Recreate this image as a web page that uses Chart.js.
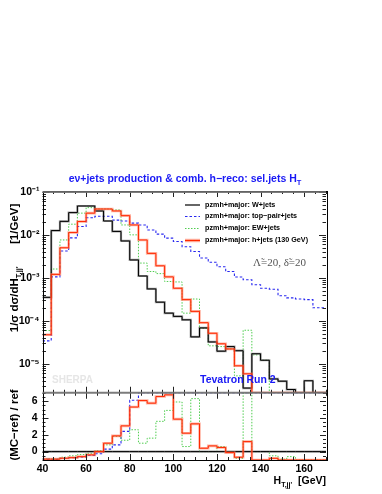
<!DOCTYPE html>
<html>
<head>
<meta charset="utf-8">
<script src="https://cdn.jsdelivr.net/npm/chart.js@4.4.1/dist/chart.umd.min.js"></script>
<style>
html, body { margin: 0; padding: 0; background: #fff; }
canvas { display: block; }
</style>
</head>
<body>
<canvas id="plot" width="382" height="494"></canvas>
<script>
// lower bin edges (GeV), 4 GeV wide
const binLow = [40, 44, 48, 52, 56, 60, 64, 68, 72, 76, 80, 84, 88, 92, 96, 100, 104,
    108, 112, 116, 120, 124, 128, 132, 136, 140, 144, 148, 152, 156, 160, 164, 168]
const binWidth = 4

// 1/sigma dsigma/dHT  [1/GeV]
const wJets = [3.5e-4, 0.0126, 0.0206, 0.033, 0.047, 0.047, 0.036, 0.021, 0.012, 0.0072, 0.0026,
    1.1e-3, 5.5e-4, 2.7e-4, 1.5e-4, 1.26e-4, 1.05e-4, 4.2e-5, 6.8e-5, 3.2e-5, 1.95e-5, 2.5e-5,
    2.0e-5, 2.7e-6, 1.7e-5, 1.2e-5, 4.4e-6, 3.9e-6, 2.5e-6, 0, 4e-6, 0, 0]
const topPair = [3.4e-5, 1.05e-3, 4.2e-3, 8.5e-3, 0.0156, 0.025, 0.027, 0.027, 0.022, 0.021, 0.0187,
    0.017, 0.013, 0.0104, 8.4e-3, 7.0e-3, 5.3e-3, 4.1e-3, 2.9e-3, 2.3e-3, 1.8e-3, 1.4e-3,
    1.04e-3, 9e-4, 6.9e-4, 5.7e-4, 5.4e-4, 3.8e-4, 3.4e-4, 3.2e-4, 3.1e-4, 2.0e-4, 2.0e-4]
const ewJets = [5.9e-5, 1.6e-3, 7.6e-3, 0.0177, 0.032, 0.043, 0.040, 0.040, 0.038, 0.017, 0.010,
    2.2e-3, 1.4e-3, 1.25e-3, 8.2e-4, 8.0e-4, 1.5e-4, 3.2e-4, 6.6e-5, 2.6e-5, 2.5e-5, 2.2e-5,
    5.2e-6, 6.0e-5, 1.6e-5, 1.2e-5, 0, 0, 0, 0, 0, 0, 0]
const hJets = [4.7e-5, 1.2e-3, 5.0e-3, 0.0113, 0.0204, 0.032, 0.040, 0.040, 0.036, 0.028, 0.017,
    7.6e-3, 3.7e-3, 1.9e-3, 1.05e-3, 5.7e-4, 3.1e-4, 1.65e-4, 9e-5, 5.1e-5, 2.9e-5, 2.2e-5,
    8.9e-6, 5.8e-6, 0, 0, 0, 0, 0, 0, 0, 0, 0]

// (MC-ref)/ref
const wJetsRatio = [0, 0, 0, 0, 0, 0, 0, 0, 0, 0, 0, 0, 0, 0, 0, 0, 0,
    0, 0, 0, 0, 0, 0, 0, 0, 0, 0, 0, 0, 0, 0, 0, 0]
const topPairRatio = [-0.9, -0.92, -0.8, -0.74, -0.67, -0.47, -0.25, 0.29, 0.8, 2.4, 6.1,
    14, 23, 37, 55, 55, 50, 97, 42, 71, 91, 55, 51, 330, 40, 47, 122, 96, 135, 1000, 77, 1000, 1000]
const ewJetsRatio = [-0.85, -0.88, -0.67, -0.5, -0.35, -0.2, 0.12, 0.8, 1.8, 1.35, 2.6,
    1.0, 1.6, 3.6, 4.9, 5.9, 0.6, 6.3, 0.0, 0.0, 0.6, -0.1, -0.8, 20, 0, 0, -0.5, -0.9, -0.6, -1, -1, -1, -1]
const hJetsRatio = [-0.9, -0.9, -0.79, -0.72, -0.6, -0.39, 0.0, 1.0, 1.87, 3.06, 5.3,
    6.07, 5.76, 6.55, 6.75, 3.86, 2.19, 3.3, 0.4, 0.68, 0.48, -0.12, -0.67, 1.19, -1, -1, -0.8, -1, -1, -1, -1, -1, -1]

const xTicks = [40, 60, 80, 100, 120, 140, 160]
const logTicks = [1e-5, 1e-4, 1e-3, 1e-2, 1e-1]
const logTickLabels = ['10⁻⁵', '10⁻⁴', '10⁻³', '10⁻²', '10⁻¹']
const ratioTicks = [0, 2, 4, 6]

const legendLabels = ['pzmh+major: W+jets', 'pzmh+major: top\u2212pair+jets',
    'pzmh+major: EW+jets', 'pzmh+major: h+jets (130 GeV)']

const X_MIN = 40, X_MAX = 170
const Y_MIN = 2.1e-6, Y_MAX = 0.105
const R_MIN = -1, R_MAX = 7

const FONT = '"Liberation Sans", Arial, sans-serif'
const BLUE_TXT = 'rgb(25,25,245)'

function histo(vals, lo, hi) {
    const pts = vals.map((v, i) => ({ x: binLow[i], y: Math.min(hi, Math.max(lo, v)) }))
    pts.push({ x: binLow[binLow.length - 1] + binWidth, y: pts[pts.length - 1].y })
    return pts
}

function line(data, axis, color, width, dash, order) {
    return {
        data: data,
        yAxisID: axis,
        borderColor: color,
        borderWidth: width,
        borderDash: dash || [],
        stepped: true,
        fill: false,
        pointRadius: 0,
        order: order
    }
}

const styles = {
    w: { band: 'rgba(120,120,120,0.7)', color: '#000' },
    top: { color: 'rgb(40,40,240)', dash: [2.5, 2] },
    ew: { color: 'rgb(80,205,80)', dash: [1.5, 1.5] },
    h: { band: 'rgba(255,120,90,0.55)', color: 'rgb(255,40,0)' }
}

function seriesSets(axis, lo, hi, w, t, e, h) {
    return [
        line(histo(t, lo, hi), axis, styles.top.color, 1.1, styles.top.dash, 9),
        line(histo(e, lo, hi), axis, styles.ew.color, 1, styles.ew.dash, 8),
        line(histo(w, lo, hi), axis, styles.w.band, 2.2, null, 7),
        line(histo(w, lo, hi), axis, styles.w.color, 1, null, 6),
        line(histo(h, lo, hi), axis, styles.h.band, 2.6, null, 5),
        line(histo(h, lo, hi), axis, styles.h.color, 1, null, 4)
    ]
}

function richText(ctx, parts, x, y, align) {
    let total = 0
    parts.forEach(p => { ctx.font = p.font; p.w = ctx.measureText(p.t).width; total += p.w })
    let cx = align === 'right' ? x - total : align === 'center' ? x - total / 2 : x
    parts.forEach(p => {
        ctx.font = p.font
        ctx.fillText(p.t, cx, y + (p.dy || 0))
        cx += p.w
    })
}

const decor = {
    id: 'decor',
    afterDatasetsDraw(chart) {
        const ctx = chart.ctx
        const xs = chart.scales.x, ys = chart.scales.y, yr = chart.scales.yr
        const L = xs.left, R = xs.right
        ctx.save()

        // ticks, all pointing inward
        ctx.strokeStyle = '#222'
        ctx.lineWidth = 1
        ctx.beginPath()
        for (let v = X_MIN; v <= X_MAX; v += 5) {
            const px = Math.round(xs.getPixelForValue(v)) + 0.5
            const len = v % 20 === 0 ? 6 : 3
            ;[[ys.top, 1], [ys.bottom, -1], [yr.top, 1], [yr.bottom, -1]].forEach(([y0, d]) => {
                ctx.moveTo(px, y0); ctx.lineTo(px, y0 + d * len)
            })
        }
        for (let e = -6; e <= -1; e++) {
            for (let m = 1; m <= 9; m++) {
                const v = m * Math.pow(10, e)
                if (v < Y_MIN || v > Y_MAX) continue
                const py = Math.round(ys.getPixelForValue(v)) + 0.5
                const len = m === 1 ? 7 : 3.5
                ctx.moveTo(L, py); ctx.lineTo(L + len, py)
                ctx.moveTo(R, py); ctx.lineTo(R - len, py)
            }
        }
        for (let v = R_MIN; v <= R_MAX; v += 0.5) {
            const py = Math.round(yr.getPixelForValue(v)) + 0.5
            const len = v % 2 === 0 ? 6 : 3
            ctx.moveTo(L, py); ctx.lineTo(L + len, py)
            ctx.moveTo(R, py); ctx.lineTo(R - len, py)
        }
        ctx.stroke()

        // frame
        ctx.strokeStyle = '#000'
        ctx.strokeRect(Math.round(L) + 0.5, Math.round(ys.top) + 0.5,
            Math.round(R - L), Math.round(yr.bottom - ys.top))
        ctx.strokeStyle = 'rgba(110,110,110,0.9)'
        ctx.lineWidth = 2
        ctx.beginPath()
        ctx.moveTo(L, ys.top + 1); ctx.lineTo(R, ys.top + 1)
        ctx.moveTo(L, ys.bottom); ctx.lineTo(R, ys.bottom)
        ctx.stroke()

        // title
        ctx.fillStyle = BLUE_TXT
        ctx.textBaseline = 'alphabetic'
        richText(ctx, [
            { t: 'e\u03bd+jets production & comb. h\u2212reco: sel.jets H', font: 'bold 10.5px ' + FONT },
            { t: 'T', font: 'bold 7.5px ' + FONT, dy: 3 }
        ], 185, 182, 'center')

        // legend
        const lx0 = 185, lx1 = 200, tx = 205
        const rows = [205, 216.5, 228.5, 240.5]
        rows.forEach((ry, i) => {
            ctx.setLineDash([])
            if (i === 0) {
                ctx.strokeStyle = styles.w.color; ctx.lineWidth = 1.2
            } else if (i === 1) {
                ctx.strokeStyle = styles.top.color; ctx.lineWidth = 1.2; ctx.setLineDash(styles.top.dash)
            } else if (i === 2) {
                ctx.strokeStyle = styles.ew.color; ctx.lineWidth = 1; ctx.setLineDash(styles.ew.dash)
            } else {
                ctx.strokeStyle = styles.h.band; ctx.lineWidth = 3.5
                ctx.beginPath(); ctx.moveTo(lx0, ry); ctx.lineTo(lx1, ry); ctx.stroke()
                ctx.strokeStyle = styles.h.color; ctx.lineWidth = 1.2
            }
            ctx.beginPath(); ctx.moveTo(lx0, ry); ctx.lineTo(lx1, ry); ctx.stroke()
            ctx.setLineDash([])
            ctx.fillStyle = '#000'
            ctx.font = 'bold 7.2px ' + FONT
            ctx.textBaseline = 'middle'
            ctx.fillText(legendLabels[i], tx, ry)
        })

        // annotations
        ctx.textBaseline = 'middle'
        ctx.fillStyle = '#555'
        ctx.font = '11px "Liberation Serif", "DejaVu Serif", serif'
        ctx.fillText('\u039b\u0303=20, \u03b4\u0303=20', 253, 263)

        ctx.fillStyle = '#e6e6e6'
        ctx.font = 'bold 10px ' + FONT
        ctx.fillText('SHERPA', 52, 380)

        ctx.fillStyle = BLUE_TXT
        ctx.font = 'bold 10.5px ' + FONT
        ctx.fillText('Tevatron Run 2', 200, 380)

        // axis titles
        ctx.fillStyle = '#000'
        ctx.textBaseline = 'alphabetic'
        richText(ctx, [
            { t: 'H', font: 'bold 10.5px ' + FONT },
            { t: "T,jj'", font: 'bold 7px ' + FONT, dy: 3 },
            { t: '  [GeV]', font: 'bold 10.5px ' + FONT }
        ], R, 484, 'right')

        ctx.save()
        ctx.translate(18, 268)
        ctx.rotate(-Math.PI / 2)
        richText(ctx, [
            { t: '1/\u03c3 d\u03c3/dH', font: 'bold 11.5px ' + FONT },
            { t: "T,jj'", font: 'bold 7.5px ' + FONT, dy: 3 },
            { t: '       [1/GeV]', font: 'bold 11.5px ' + FONT }
        ], 0, 0, 'center')
        ctx.restore()

        ctx.save()
        ctx.translate(18, 425)
        ctx.rotate(-Math.PI / 2)
        richText(ctx, [{ t: '(MC\u2212ref) / ref', font: 'bold 11.5px ' + FONT }], 0, 0, 'center')
        ctx.restore()

        ctx.restore()
    }
}

const tickFont = { family: FONT, size: 10.5, weight: 'bold' }

new Chart(document.getElementById('plot'), {
    type: 'line',
    data: {
        datasets: [
            ...seriesSets('y', Y_MIN, Y_MAX, wJets, topPair, ewJets, hJets),
            ...seriesSets('yr', R_MIN, R_MAX, wJetsRatio, topPairRatio, ewJetsRatio, hJetsRatio)
        ]
    },
    options: {
        responsive: false,
        animation: false,
        layout: { padding: { top: 191, right: 56, left: 0, bottom: 0 } },
        plugins: { legend: { display: false }, tooltip: { enabled: false } },
        scales: {
            x: {
                type: 'linear',
                min: X_MIN,
                max: X_MAX,
                grid: { display: false, drawTicks: false },
                border: { display: false },
                afterBuildTicks: s => { s.ticks = xTicks.map(v => ({ value: v })) },
                afterFit: s => { s.height = 34 },
                ticks: { autoSkip: false, maxRotation: 0, padding: 3, color: '#000', font: tickFont }
            },
            // the stack is laid out bottom-up, so the ratio panel is declared first
            yr: {
                type: 'linear',
                position: 'left',
                stack: 'panels',
                stackWeight: 1,
                min: R_MIN,
                max: R_MAX,
                grid: { display: false, drawTicks: false },
                border: { display: false },
                afterBuildTicks: s => { s.ticks = ratioTicks.map(v => ({ value: v })) },
                afterFit: s => { s.width = 42.5 },
                ticks: { autoSkip: false, padding: 5, color: '#000', font: tickFont }
            },
            y: {
                type: 'logarithmic',
                position: 'left',
                stack: 'panels',
                stackWeight: 3,
                min: Y_MIN,
                max: Y_MAX,
                grid: { display: false, drawTicks: false },
                border: { display: false },
                afterBuildTicks: s => { s.ticks = logTicks.map(v => ({ value: v })) },
                afterFit: s => { s.width = 42.5 },
                ticks: {
                    autoSkip: false, padding: 3, color: '#000', font: tickFont,
                    callback: (v, i) => logTickLabels[i]
                }
            }
        }
    },
    plugins: [decor]
})
</script>
</body>
</html>
